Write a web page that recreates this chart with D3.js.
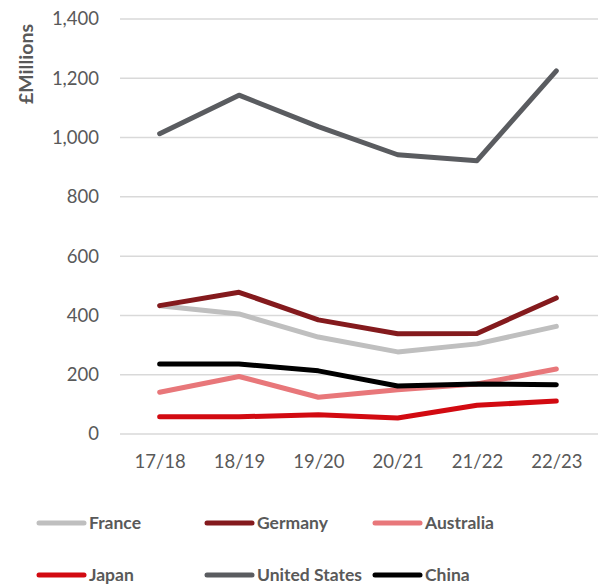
<!DOCTYPE html>
<html><head><meta charset="utf-8">
<script src="https://cdn.jsdelivr.net/npm/d3@7"></script>
<style>body{margin:0;background:#fff;}svg{display:block;font-family:Lato,"Open Sans",sans-serif;}</style>
</head><body>
<svg id="chart" width="598" height="586"></svg>
<script>
const years = ["17/18","18/19","19/20","20/21","21/22","22/23"];
const yTicks = [0,200,400,600,800,1000,1200,1400];
const seriesNames = ["France","Germany","Australia","Japan","United States","China"];
const seriesColors = ["#BFBFBF","#841A1D","#E8777A","#D20A11","#5A5C60","#000000"];
const france = [433,405,327,277,304,363];
const germany = [433,478,385,338,339,459];
const australia = [141,194,124,149,169,219];
const japan = [58,58,65,54,97,111];
const unitedStates = [1013,1143,1037,942,922,1225];
const china = [236,236,213,162,169,166];
const seriesValues = [france,germany,australia,japan,unitedStates,china];
// draw order (back to front)
const drawOrder = ["France","Germany","Australia","Japan","China","United States"];

const svg = d3.select("#chart");
const x = d3.scalePoint().domain(years).range([120,596]).padding(0.5);
const y = d3.scaleLinear().domain([0,1400]).range([434,19]);

// gridlines
svg.append("g").selectAll("line").data(yTicks).join("line")
  .attr("x1",120).attr("x2",598)
  .attr("y1",d=>y(d)).attr("y2",d=>y(d))
  .attr("stroke","#D9D9D9").attr("stroke-width",1.5);

// y axis labels
const yAxis = svg.append("g").attr("transform","translate(99,0)")
  .call(d3.axisLeft(y).tickValues(yTicks).tickSize(0).tickPadding(0).tickFormat(d3.format(",")));
yAxis.select(".domain").remove();
yAxis.selectAll("text").attr("font-size",18.5).attr("fill","#595959").attr("font-family","Lato,'Open Sans',sans-serif");

// x axis labels
const xAxis = svg.append("g").attr("transform","translate(0,452)")
  .call(d3.axisBottom(x).tickSize(0).tickPadding(0));
xAxis.select(".domain").remove();
xAxis.selectAll("text").attr("font-size",18.5).attr("fill","#595959").attr("dy","0.85em").attr("font-family","Lato,'Open Sans',sans-serif");

// y title
svg.append("text").attr("transform","translate(33,64) rotate(-90)")
  .attr("text-anchor","middle").attr("font-size",19.5).attr("font-weight","bold")
  .attr("fill","#595959").text("£Millions");

const line = d3.line().x((d,i)=>x(years[i])).y(d=>y(d));
drawOrder.forEach(name=>{
  const i = seriesNames.indexOf(name);
  svg.append("path").datum(seriesValues[i])
    .attr("d",line).attr("fill","none")
    .attr("stroke",seriesColors[i]).attr("stroke-width",5)
    .attr("stroke-linecap","round").attr("stroke-linejoin","round");
});

// legend
const legX = [37,205,373];
const legY = [523,575];
const leg = svg.append("g");
seriesNames.forEach((name,i)=>{
  const lx = legX[i%3], ly = legY[Math.floor(i/3)];
  leg.append("line").attr("x1",lx+2).attr("x2",lx+47).attr("y1",ly).attr("y2",ly)
    .attr("stroke",seriesColors[i]).attr("stroke-width",5).attr("stroke-linecap","round");
  leg.append("text").attr("x",lx+52).attr("y",ly).attr("dy","0.36em")
    .attr("font-size",17.5).attr("font-weight","bold").attr("fill","#595959").text(name);
});
</script>
</body></html>
